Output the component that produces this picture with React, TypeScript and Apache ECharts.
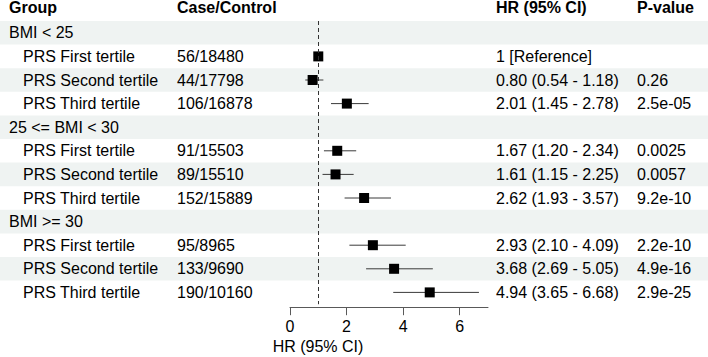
import React, { useEffect, useRef } from "react";
import * as echarts from "echarts";

// Table columns
const headers = ["Group", "Case/Control", "HR (95% CI)", "P-value"];
const groups = [
  "BMI < 25",
  "PRS First tertile",
  "PRS Second tertile",
  "PRS Third tertile",
  "25 <= BMI < 30",
  "PRS First tertile",
  "PRS Second tertile",
  "PRS Third tertile",
  "BMI >= 30",
  "PRS First tertile",
  "PRS Second tertile",
  "PRS Third tertile",
];
const isSubRow = [false, true, true, true, false, true, true, true, false, true, true, true];
const caseControl = [
  "", "56/18480", "44/17798", "106/16878",
  "", "91/15503", "89/15510", "152/15889",
  "", "95/8965", "133/9690", "190/10160",
];
// Hazard ratios with 95% confidence limits (null = no estimate / reference)
const hr = [null, 1, 0.8, 2.01, null, 1.67, 1.61, 2.62, null, 2.93, 3.68, 4.94];
const lower = [null, null, 0.54, 1.45, null, 1.2, 1.15, 1.93, null, 2.1, 2.69, 3.65];
const upper = [null, null, 1.18, 2.78, null, 2.34, 2.25, 3.57, null, 4.09, 5.05, 6.68];
const pValues = [
  "", "", "0.26", "2.5e-05",
  "", "0.0025", "0.0057", "9.2e-10",
  "", "2.2e-10", "4.9e-16", "2.9e-25",
];
const xTicks = [0, 2, 4, 6];
const refLine = 1;
const xTitle = "HR (95% CI)";

// Layout
const W = 708;
const H = 357;
const TOP = 21;
const ROW_H = 23.6;
const FONT = '"Liberation Sans", Arial, Helvetica, sans-serif';
const FONT_SIZE = 16;
const COL = { group: 9, sub: 23, cc: 177, hr: 496, p: 637 };
const BAND = "#eff3f2";

function hrText(i: number): string {
  const v = hr[i];
  if (v == null) return "";
  const lo = lower[i];
  const hi = upper[i];
  if (lo == null || hi == null) return `${v} [Reference]`;
  return `${v.toFixed(2)} (${lo.toFixed(2)} - ${hi.toFixed(2)})`;
}

function txt(x: number, y: number, text: string, bold = false) {
  return {
    type: "text",
    x,
    y,
    silent: true,
    style: {
      text,
      fill: "#000",
      fontSize: FONT_SIZE,
      fontFamily: FONT,
      fontWeight: bold ? "bold" : "normal",
      align: "left",
      verticalAlign: "middle",
    },
  };
}

export default function App() {
  const ref = useRef<HTMLDivElement>(null);

  useEffect(() => {
    if (!ref.current) return;
    const chart = echarts.init(ref.current, null, { renderer: "svg" });

    const nRows = groups.length;
    const tableData = [[-1], ...groups.map((_, i) => [i])];
    const forestData: number[][] = [];
    hr.forEach((v, i) => {
      if (v == null) return;
      forestData.push([v, i, lower[i] ?? v, upper[i] ?? v]);
    });

    const option: any = {
      animation: false,
      backgroundColor: "#fff",
      grid: [
        { left: 0, top: TOP, width: W, height: ROW_H * nRows },
        { left: 290, top: TOP, width: 198, height: ROW_H * nRows },
      ],
      xAxis: [
        { type: "value", gridIndex: 0, min: 0, max: W, show: false },
        {
          type: "value",
          gridIndex: 1,
          min: 0,
          max: 7,
          interval: 2,
          offset: 3,
          axisLine: { show: true, onZero: false, lineStyle: { color: "#595959", width: 1 } },
          axisTick: {
            show: true,
            inside: false,
            length: 8,
            customValues: xTicks,
            lineStyle: { color: "#595959", width: 1 },
          },
          axisLabel: {
            customValues: xTicks,
            margin: 11,
            fontSize: FONT_SIZE,
            fontFamily: FONT,
            color: "#000",
          },
          splitLine: { show: false },
        },
      ],
      yAxis: [
        { type: "value", gridIndex: 0, min: 0, max: nRows, inverse: true, show: false },
        { type: "value", gridIndex: 1, min: 0, max: nRows, inverse: true, show: false },
      ],
      graphic: [
        {
          type: "text",
          x: 318,
          y: 346,
          silent: true,
          style: {
            text: xTitle,
            fill: "#000",
            fontSize: FONT_SIZE,
            fontFamily: FONT,
            align: "center",
            verticalAlign: "middle",
          },
        },
      ],
      series: [
        {
          type: "custom",
          xAxisIndex: 0,
          yAxisIndex: 0,
          silent: true,
          clip: false,
          data: tableData,
          encode: { y: 0 },
          renderItem: (params: any, api: any) => {
            const i = api.value(0);
            const top = api.coord([0, i])[1];
            const bottom = api.coord([0, i + 1])[1];
            const mid = (top + bottom) / 2;
            const children: any[] = [];
            if (i < 0) {
              children.push(txt(COL.group, mid - 2, headers[0], true));
              children.push(txt(COL.cc, mid - 2, headers[1], true));
              children.push(txt(COL.hr, mid - 2, headers[2], true));
              children.push(txt(COL.p, mid - 2, headers[3], true));
              return { type: "group", children };
            }
            if (i % 2 === 0) {
              children.push({
                type: "rect",
                silent: true,
                shape: { x: 0, y: top, width: W, height: bottom - top },
                style: { fill: BAND },
              });
            }
            children.push(txt(isSubRow[i] ? COL.sub : COL.group, mid, groups[i]));
            if (caseControl[i]) children.push(txt(COL.cc, mid, caseControl[i]));
            const h = hrText(i);
            if (h) children.push(txt(COL.hr, mid, h));
            if (pValues[i]) children.push(txt(COL.p, mid, pValues[i]));
            return { type: "group", children };
          },
        },
        {
          type: "custom",
          xAxisIndex: 1,
          yAxisIndex: 1,
          silent: true,
          clip: false,
          data: forestData,
          encode: { x: [0, 2, 3], y: 1 },
          renderItem: (params: any, api: any) => {
            const row = api.value(1);
            const y = api.coord([0, row + 0.5])[1];
            const cx = api.coord([api.value(0), row])[0];
            const lo = api.coord([api.value(2), row])[0];
            const hi = api.coord([api.value(3), row])[0];
            const s = 10;
            const children: any[] = [];
            if (hi > lo) {
              children.push({
                type: "line",
                shape: { x1: lo, y1: y, x2: hi, y2: y },
                style: { stroke: "#3a3a3a", lineWidth: 1 },
              });
            }
            children.push({
              type: "rect",
              shape: { x: cx - s / 2, y: y - s / 2, width: s, height: s },
              style: { fill: "#000" },
            });
            return { type: "group", children };
          },
          markLine: {
            silent: true,
            symbol: ["none", "none"],
            label: { show: false },
            lineStyle: { color: "#333", width: 1, type: [4, 3] },
            data: [{ xAxis: refLine }],
          },
        },
      ],
    };

    chart.setOption(option);
    return () => chart.dispose();
  }, []);

  return (
    <div
      ref={ref}
      style={{ position: "fixed", left: 0, top: 0, width: W, height: H }}
    />
  );
}
